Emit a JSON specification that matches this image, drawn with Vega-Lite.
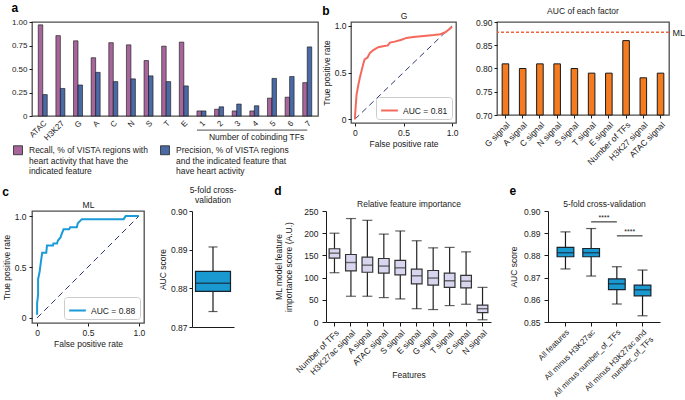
{
"$schema": "https://vega.github.io/schema/vega-lite/v6.json",
"padding": {"left": 1, "top": 1, "right": 0, "bottom": 0},
"config": {
  "font": "Liberation Sans",
  "view": {"stroke": null},
  "axis": {"labelFontSize": 8.5, "titleFontSize": 8.5, "labelColor": "#1a1a1a", "titleColor": "#1a1a1a", "titleFontWeight": "normal", "domainColor": "#1a1a1a", "tickColor": "#1a1a1a", "tickSize": 3, "grid": false, "labelPadding": 2, "titlePadding": 3, "labelOverlap": false},
  "title": {"fontSize": 8.5, "fontWeight": "normal", "color": "#1a1a1a", "offset": 3},
  "legend": {"labelFontSize": 8.5, "labelColor": "#1a1a1a"}
},
"datasets": {
  "panelA": [
    {"feature": "ATAC", "series": "Recall", "value": 0.97}, {"feature": "ATAC", "series": "Precision", "value": 0.228},
    {"feature": "H3K27", "series": "Recall", "value": 0.855}, {"feature": "H3K27", "series": "Precision", "value": 0.293},
    {"feature": "G", "series": "Recall", "value": 0.80}, {"feature": "G", "series": "Precision", "value": 0.33},
    {"feature": "A", "series": "Recall", "value": 0.62}, {"feature": "A", "series": "Precision", "value": 0.464},
    {"feature": "C", "series": "Recall", "value": 0.78}, {"feature": "C", "series": "Precision", "value": 0.366},
    {"feature": "N", "series": "Recall", "value": 0.757}, {"feature": "N", "series": "Precision", "value": 0.395},
    {"feature": "S", "series": "Recall", "value": 0.59}, {"feature": "S", "series": "Precision", "value": 0.427},
    {"feature": "T", "series": "Recall", "value": 0.743}, {"feature": "T", "series": "Precision", "value": 0.366},
    {"feature": "E", "series": "Recall", "value": 0.786}, {"feature": "E", "series": "Precision", "value": 0.32},
    {"feature": "1", "series": "Recall", "value": 0.054}, {"feature": "1", "series": "Precision", "value": 0.054},
    {"feature": "2", "series": "Recall", "value": 0.072}, {"feature": "2", "series": "Precision", "value": 0.098},
    {"feature": "3", "series": "Recall", "value": 0.054}, {"feature": "3", "series": "Precision", "value": 0.127},
    {"feature": "4", "series": "Recall", "value": 0.054}, {"feature": "4", "series": "Precision", "value": 0.109},
    {"feature": "5", "series": "Recall", "value": 0.19}, {"feature": "5", "series": "Precision", "value": 0.40},
    {"feature": "6", "series": "Recall", "value": 0.20}, {"feature": "6", "series": "Precision", "value": 0.42},
    {"feature": "7", "series": "Recall", "value": 0.355}, {"feature": "7", "series": "Precision", "value": 0.735}
  ],
  "rocG": [
    {"i": 0, "fpr": 0, "tpr": 0, "label": "AUC = 0.81"}, {"i": 1, "fpr": 0.007, "tpr": 0.12, "label": "AUC = 0.81"},
    {"i": 2, "fpr": 0.017, "tpr": 0.26, "label": "AUC = 0.81"}, {"i": 3, "fpr": 0.034, "tpr": 0.36, "label": "AUC = 0.81"},
    {"i": 4, "fpr": 0.052, "tpr": 0.45, "label": "AUC = 0.81"}, {"i": 5, "fpr": 0.069, "tpr": 0.52, "label": "AUC = 0.81"},
    {"i": 6, "fpr": 0.086, "tpr": 0.59, "label": "AUC = 0.81"}, {"i": 7, "fpr": 0.10, "tpr": 0.64, "label": "AUC = 0.81"},
    {"i": 8, "fpr": 0.13, "tpr": 0.66, "label": "AUC = 0.81"}, {"i": 9, "fpr": 0.155, "tpr": 0.71, "label": "AUC = 0.81"},
    {"i": 10, "fpr": 0.19, "tpr": 0.74, "label": "AUC = 0.81"}, {"i": 11, "fpr": 0.24, "tpr": 0.77, "label": "AUC = 0.81"},
    {"i": 12, "fpr": 0.29, "tpr": 0.78, "label": "AUC = 0.81"}, {"i": 13, "fpr": 0.34, "tpr": 0.79, "label": "AUC = 0.81"},
    {"i": 14, "fpr": 0.36, "tpr": 0.82, "label": "AUC = 0.81"}, {"i": 15, "fpr": 0.41, "tpr": 0.83, "label": "AUC = 0.81"},
    {"i": 16, "fpr": 0.48, "tpr": 0.85, "label": "AUC = 0.81"}, {"i": 17, "fpr": 0.53, "tpr": 0.87, "label": "AUC = 0.81"},
    {"i": 18, "fpr": 0.60, "tpr": 0.88, "label": "AUC = 0.81"}, {"i": 19, "fpr": 0.71, "tpr": 0.89, "label": "AUC = 0.81"},
    {"i": 20, "fpr": 0.81, "tpr": 0.90, "label": "AUC = 0.81"}, {"i": 21, "fpr": 0.88, "tpr": 0.91, "label": "AUC = 0.81"},
    {"i": 22, "fpr": 0.93, "tpr": 0.93, "label": "AUC = 0.81"}, {"i": 23, "fpr": 0.98, "tpr": 0.97, "label": "AUC = 0.81"},
    {"i": 24, "fpr": 1.0, "tpr": 0.99, "label": "AUC = 0.81"}
  ],
  "rocML": [
    {"i": 0, "fpr": 0, "tpr": 0.03, "label": "AUC = 0.88"}, {"i": 1, "fpr": 0, "tpr": 0.14, "label": "AUC = 0.88"},
    {"i": 2, "fpr": 0.01, "tpr": 0.23, "label": "AUC = 0.88"}, {"i": 3, "fpr": 0.01, "tpr": 0.38, "label": "AUC = 0.88"},
    {"i": 4, "fpr": 0.026, "tpr": 0.46, "label": "AUC = 0.88"}, {"i": 5, "fpr": 0.036, "tpr": 0.54, "label": "AUC = 0.88"},
    {"i": 6, "fpr": 0.05, "tpr": 0.64, "label": "AUC = 0.88"}, {"i": 7, "fpr": 0.09, "tpr": 0.64, "label": "AUC = 0.88"},
    {"i": 8, "fpr": 0.097, "tpr": 0.71, "label": "AUC = 0.88"}, {"i": 9, "fpr": 0.156, "tpr": 0.71, "label": "AUC = 0.88"},
    {"i": 10, "fpr": 0.16, "tpr": 0.73, "label": "AUC = 0.88"}, {"i": 11, "fpr": 0.195, "tpr": 0.73, "label": "AUC = 0.88"},
    {"i": 12, "fpr": 0.205, "tpr": 0.76, "label": "AUC = 0.88"}, {"i": 13, "fpr": 0.23, "tpr": 0.79, "label": "AUC = 0.88"},
    {"i": 14, "fpr": 0.24, "tpr": 0.82, "label": "AUC = 0.88"}, {"i": 15, "fpr": 0.26, "tpr": 0.87, "label": "AUC = 0.88"},
    {"i": 16, "fpr": 0.315, "tpr": 0.87, "label": "AUC = 0.88"}, {"i": 17, "fpr": 0.325, "tpr": 0.89, "label": "AUC = 0.88"},
    {"i": 18, "fpr": 0.39, "tpr": 0.89, "label": "AUC = 0.88"}, {"i": 19, "fpr": 0.40, "tpr": 0.93, "label": "AUC = 0.88"},
    {"i": 20, "fpr": 0.44, "tpr": 0.97, "label": "AUC = 0.88"}, {"i": 21, "fpr": 0.85, "tpr": 0.97, "label": "AUC = 0.88"},
    {"i": 22, "fpr": 0.87, "tpr": 1.0, "label": "AUC = 0.88"}, {"i": 23, "fpr": 1.0, "tpr": 1.0, "label": "AUC = 0.88"}
  ],
  "auc": [
    {"factor": "G signal", "auc": 0.81}, {"factor": "A signal", "auc": 0.80}, {"factor": "C signal", "auc": 0.81},
    {"factor": "N signal", "auc": 0.81}, {"factor": "S signal", "auc": 0.80}, {"factor": "T signal", "auc": 0.79},
    {"factor": "E signal", "auc": 0.79}, {"factor": "Number of TFs", "auc": 0.86}, {"factor": "H3K27 signal", "auc": 0.78},
    {"factor": "ATAC signal", "auc": 0.79}
  ],
  "importance": [
    {"feature": "Number of TFs", "min": 111, "q1": 144, "median": 155, "q3": 165, "max": 200},
    {"feature": "H3K27ac signal", "min": 58, "q1": 115, "median": 134, "q3": 152, "max": 233},
    {"feature": "A signal", "min": 58, "q1": 112, "median": 128, "q3": 146, "max": 229},
    {"feature": "ATAC signal", "min": 55, "q1": 110, "median": 126, "q3": 143, "max": 198},
    {"feature": "S signal", "min": 52, "q1": 106, "median": 122, "q3": 139, "max": 205},
    {"feature": "E signal", "min": 30, "q1": 86, "median": 104, "q3": 119, "max": 183},
    {"feature": "G signal", "min": 28, "q1": 83, "median": 99, "q3": 116, "max": 167},
    {"feature": "T signal", "min": 37, "q1": 78, "median": 93, "q3": 110, "max": 168},
    {"feature": "C signal", "min": 40, "q1": 77, "median": 92, "q3": 105, "max": 158},
    {"feature": "N signal", "min": 5, "q1": 21, "median": 30, "q3": 38, "max": 78}
  ],
  "cv": [
    {"set": "All features", "min": 0.8739, "q1": 0.8794, "median": 0.8812, "q3": 0.8836, "max": 0.8906},
    {"set": "All minus H3K27ac", "min": 0.8707, "q1": 0.8794, "median": 0.8812, "q3": 0.8831, "max": 0.8921},
    {"set": "All minus number_of_TFs", "min": 0.8581, "q1": 0.8646, "median": 0.8672, "q3": 0.8694, "max": 0.8749},
    {"set": "All minus H3K27ac and number_of_TFs", "min": 0.8528, "q1": 0.8618, "median": 0.8645, "q3": 0.8666, "max": 0.8734}
  ]
},
"spacing": 8,
"resolve": {"scale": {"color": "independent"}, "legend": {"color": "independent"}},
"vconcat": [
  {"spacing": 2,
   "resolve": {"scale": {"color": "independent"}, "legend": {"color": "independent"}},
   "hconcat": [
    {
      "width": 286, "height": 94,
      "view": {"stroke": "#4d4d4d", "strokeWidth": 1.3},
      "title": {"text": "a", "anchor": "start", "frame": "bounds", "fontSize": 12, "fontWeight": "bold", "color": "#000", "offset": 3},
      "layer": [
        {"data": {"name": "panelA"},
         "mark": {"type": "bar", "stroke": "#111", "strokeWidth": 0.6},
         "encoding": {
           "x": {"field": "feature", "type": "nominal", "scale": {"domain": ["ATAC","H3K27","G","A","C","N","S","T","E","1","2","3","4","5","6","7"], "paddingInner": 0.49, "paddingOuter": 0.355}, "axis": {"title": null, "labelAngle": -45, "labelFontSize": 8, "ticks": false, "domain": false, "labelPadding": 3}},
           "xOffset": {"field": "series", "type": "nominal", "scale": {"domain": ["Recall", "Precision"]}},
           "y": {"field": "value", "type": "quantitative", "scale": {"domain": [0, 1], "nice": false}, "axis": {"title": null, "values": [0, 0.25, 0.5, 0.75, 1], "labelExpr": "datum.value == 0 ? '0' : format(datum.value, '.2f')", "domain": false, "labelFontSize": 8}},
           "color": {"field": "series", "type": "nominal", "scale": {"domain": ["Recall", "Precision"], "range": ["#a6669c", "#4a6aa5"]},
             "legend": {"orient": "none", "legendX": -19, "legendY": 123, "direction": "horizontal", "columns": 2, "title": null, "symbolType": "square", "symbolSize": 80, "symbolStrokeColor": "#222", "symbolStrokeWidth": 0.8, "symbolOpacity": 1, "labelFontSize": 8.5, "labelLimit": 300, "columnPadding": 9, "labelOffset": 6, "padding": 0,
               "labelExpr": "datum.label == 'Recall' ? ['Recall, % of VISTA regions with', 'heart activity that have the', 'indicated feature'] : ['Precision, % of VISTA regions', 'and the indicated feature that', 'have heart activity']"}}
         }},
        {"data": {"values": [{}]},
         "mark": {"type": "rule", "color": "#222", "strokeWidth": 0.8},
         "encoding": {"x": {"datum": "1", "bandPosition": 0, "axis": null}, "x2": {"datum": "7"}, "y": {"datum": -0.15, "axis": null}}},
        {"data": {"values": [{}]},
         "mark": {"type": "text", "fontSize": 8.5, "color": "#1a1a1a", "baseline": "middle"},
         "encoding": {"x": {"datum": "4", "bandPosition": 0.75, "axis": null}, "y": {"datum": -0.225, "axis": null}, "text": {"value": "Number of cobinding TFs"}}}
      ],
      "resolve": {"axis": {"x": "independent", "y": "independent"}}
    },
    {"spacing": 15,
     "resolve": {"scale": {"color": "independent"}, "legend": {"color": "independent"}},
     "hconcat": [
      {
        "width": 105, "height": 101,
        "view": {"stroke": "#4d4d4d", "strokeWidth": 1.3},
        "title": {"text": "b", "anchor": "start", "frame": "bounds", "fontSize": 12, "fontWeight": "bold", "color": "#000", "offset": 0, "dy": 7},
        "layer": [
          {"data": {"values": [{"fpr": 0, "tpr": 0}, {"fpr": 1, "tpr": 1}]},
           "mark": {"type": "line", "color": "#2d3870", "strokeWidth": 1, "strokeDash": [6, 4]},
           "encoding": {
             "x": {"field": "fpr", "type": "quantitative", "scale": {"domain": [-0.04, 1.04], "nice": false, "zero": false}, "axis": {"orient": "top", "labels": false, "ticks": false, "domain": false, "title": "G", "titlePadding": 2}},
             "y": {"field": "tpr", "type": "quantitative", "scale": {"domain": [-0.04, 1.04], "nice": false, "zero": false}, "axis": {"title": "True positive rate", "values": [0, 0.5, 1], "labelExpr": "datum.value == 0 ? '0' : format(datum.value, '.1f')", "domain": false}}
           }},
          {"data": {"name": "rocG"},
           "mark": {"type": "line", "strokeWidth": 2},
           "encoding": {
             "x": {"field": "fpr", "type": "quantitative", "axis": {"title": "False positive rate", "values": [0, 0.5, 1], "labelExpr": "datum.value == 0 ? '0' : format(datum.value, '.1f')", "domain": false}},
             "y": {"field": "tpr", "type": "quantitative", "axis": null},
             "order": {"field": "i"},
             "color": {"field": "label", "type": "nominal", "scale": {"range": ["#f4695c"]},
               "legend": {"orient": "bottom-right", "offset": 4, "title": null, "strokeColor": "#cccccc", "cornerRadius": 3, "padding": 4, "fillColor": "white", "symbolType": "stroke", "symbolStrokeWidth": 2, "symbolSize": 280, "labelFontSize": 8.5}}
           }}
        ],
        "resolve": {"axis": {"x": "independent", "y": "independent"}}
      },
      {
        "width": 172, "height": 93,
        "view": {"stroke": "#4d4d4d", "strokeWidth": 1.3},
        "title": {"text": "AUC of each factor"},
        "layer": [
          {"data": {"name": "auc"},
           "mark": {"type": "bar", "fill": "#f47b1f", "stroke": "#1a1a1a", "strokeWidth": 1},
           "encoding": {
             "x": {"field": "factor", "type": "nominal", "scale": {"domain": ["G signal","A signal","C signal","N signal","S signal","T signal","E signal","Number of TFs","H3K27 signal","ATAC signal"], "paddingInner": 0.62, "paddingOuter": 0.3}, "axis": {"title": null, "labelAngle": -45, "domain": false}},
             "y": {"field": "auc", "type": "quantitative", "scale": {"domain": [0.7, 0.9], "nice": false, "zero": false}, "axis": {"title": null, "values": [0.7, 0.75, 0.8, 0.85, 0.9], "format": ".2f", "domain": false}},
             "y2": {"datum": 0.7}
           }},
          {"data": {"values": [{"ml": 0.878}]},
           "mark": {"type": "rule", "color": "#f0643c", "strokeWidth": 1.5, "strokeDash": [3, 2]},
           "encoding": {
             "y": {"field": "ml", "type": "quantitative", "axis": {"orient": "right", "values": [0.878], "labelExpr": "'ML'", "ticks": false, "domain": false, "title": null, "labelFontSize": 9, "labelPadding": 3}}
           }}
        ],
        "resolve": {"axis": {"y": "independent"}}
      }
    ]}
  ]},
  {"spacing": 37,
   "resolve": {"scale": {"color": "independent"}, "legend": {"color": "independent"}},
   "hconcat": [
    {"spacing": 12,
     "resolve": {"scale": {"color": "independent"}, "legend": {"color": "independent"}},
     "hconcat": [
      {
        "width": 112, "height": 112,
        "view": {"stroke": "#4d4d4d", "strokeWidth": 1.3},
        "title": {"text": "c", "anchor": "start", "frame": "bounds", "fontSize": 12, "fontWeight": "bold", "color": "#000", "offset": 1},
        "layer": [
          {"data": {"values": [{"fpr": 0, "tpr": 0}, {"fpr": 1, "tpr": 1}]},
           "mark": {"type": "line", "color": "#2d3870", "strokeWidth": 1, "strokeDash": [6, 4]},
           "encoding": {
             "x": {"field": "fpr", "type": "quantitative", "scale": {"domain": [-0.05, 1.05], "nice": false, "zero": false}, "axis": {"orient": "top", "labels": false, "ticks": false, "domain": false, "title": "ML", "titlePadding": 2}},
             "y": {"field": "tpr", "type": "quantitative", "scale": {"domain": [-0.05, 1.05], "nice": false, "zero": false}, "axis": {"title": "True positive rate", "values": [0, 0.5, 1], "labelExpr": "datum.value == 0 ? '0' : format(datum.value, '.1f')", "domain": false, "labelPadding": 3}}
           }},
          {"data": {"name": "rocML"},
           "mark": {"type": "line", "strokeWidth": 2},
           "encoding": {
             "x": {"field": "fpr", "type": "quantitative", "axis": {"title": "False positive rate", "values": [0, 0.5, 1], "labelExpr": "datum.value == 0 ? '0' : format(datum.value, '.1f')", "domain": false}},
             "y": {"field": "tpr", "type": "quantitative", "axis": null},
             "order": {"field": "i"},
             "color": {"field": "label", "type": "nominal", "scale": {"range": ["#1a9bd7"]},
               "legend": {"orient": "bottom-right", "offset": 4, "title": null, "strokeColor": "#cccccc", "cornerRadius": 3, "padding": 4, "fillColor": "white", "symbolType": "stroke", "symbolStrokeWidth": 2, "symbolSize": 280, "labelFontSize": 8.5}}
           }}
        ],
        "resolve": {"axis": {"x": "independent", "y": "independent"}}
      },
      {
        "width": 42, "height": 116,
        "title": {"text": ["5-fold cross-", "validation"], "lineHeight": 10},
        "data": {"values": [{"g": "cv", "min": 0.874, "q1": 0.8792, "median": 0.8813, "q3": 0.8844, "max": 0.8907}]},
        "layer": [
          {"mark": {"type": "rule", "color": "#1a1a1a", "strokeWidth": 1.2},
           "encoding": {
             "x": {"field": "g", "type": "nominal", "scale": {"paddingOuter": 0.1, "paddingInner": 0}, "axis": {"labels": false, "ticks": false, "title": null}},
             "y": {"field": "min", "type": "quantitative", "scale": {"domain": [0.87, 0.9], "nice": false, "zero": false}, "axis": {"title": "AUC score", "values": [0.87, 0.88, 0.89, 0.9], "format": ".2f"}},
             "y2": {"field": "max"}
           }},
          {"mark": {"type": "tick", "color": "#1a1a1a", "size": 9, "thickness": 1.2},
           "encoding": {"x": {"field": "g", "type": "nominal", "axis": null}, "y": {"field": "min", "type": "quantitative", "axis": null}}},
          {"mark": {"type": "tick", "color": "#1a1a1a", "size": 9, "thickness": 1.2},
           "encoding": {"x": {"field": "g", "type": "nominal", "axis": null}, "y": {"field": "max", "type": "quantitative", "axis": null}}},
          {"mark": {"type": "bar", "fill": "#1a98d0", "stroke": "#16222c", "strokeWidth": 1.2},
           "encoding": {"x": {"field": "g", "type": "nominal", "axis": null}, "y": {"field": "q1", "type": "quantitative", "axis": null}, "y2": {"field": "q3"}}},
          {"mark": {"type": "tick", "color": "#16222c", "size": 35, "thickness": 1.4},
           "encoding": {"x": {"field": "g", "type": "nominal", "axis": null}, "y": {"field": "median", "type": "quantitative", "axis": null}}}
        ],
        "resolve": {"axis": {"x": "independent", "y": "independent"}}
      }
    ]},
    {"spacing": 18, "hconcat": [
      {
        "width": 165, "height": 111,
        "title": {"text": "d", "anchor": "start", "frame": "bounds", "fontSize": 12, "fontWeight": "bold", "color": "#000", "offset": 1},
        "data": {"name": "importance"},
        "layer": [
          {"mark": {"type": "rule", "color": "#222", "strokeWidth": 1.2},
           "encoding": {
             "x": {"field": "feature", "type": "nominal", "scale": {"domain": ["Number of TFs","H3K27ac signal","A signal","ATAC signal","S signal","E signal","G signal","T signal","C signal","N signal"], "paddingInner": 0.35, "paddingOuter": 0.19}, "axis": {"title": "Features", "labelAngle": -45, "titlePadding": -6, "tickSize": 4}},
             "y": {"field": "min", "type": "quantitative", "scale": {"domain": [0, 250], "nice": false}, "axis": {"title": ["ML model feature", "importance score (A.U.)"], "values": [0, 50, 100, 150, 200, 250], "titlePadding": 10, "labelPadding": 4, "tickSize": 4}},
             "y2": {"field": "max"}
           }},
          {"mark": {"type": "tick", "color": "#222", "size": 10, "thickness": 1.2},
           "encoding": {"x": {"field": "feature", "type": "nominal", "axis": null}, "y": {"field": "min", "type": "quantitative", "axis": null}}},
          {"mark": {"type": "tick", "color": "#222", "size": 10, "thickness": 1.2},
           "encoding": {"x": {"field": "feature", "type": "nominal", "axis": null}, "y": {"field": "max", "type": "quantitative", "axis": null}}},
          {"mark": {"type": "bar", "fill": "#d8d5ef", "stroke": "#333", "strokeWidth": 1.2},
           "encoding": {"x": {"field": "feature", "type": "nominal", "axis": null}, "y": {"field": "q1", "type": "quantitative", "axis": null}, "y2": {"field": "q3"}}},
          {"mark": {"type": "tick", "color": "#333", "size": 10.7, "thickness": 1.4},
           "encoding": {"x": {"field": "feature", "type": "nominal", "axis": {"orient": "top", "labels": false, "ticks": false, "domain": false, "title": "Relative feature importance", "titlePadding": 3}}, "y": {"field": "median", "type": "quantitative", "axis": null}}}
        ],
        "resolve": {"axis": {"x": "independent", "y": "independent"}}
      },
      {
        "width": 112, "height": 111,
        "title": {"text": "e", "anchor": "start", "frame": "bounds", "fontSize": 12, "fontWeight": "bold", "color": "#000", "offset": 1},
        "layer": [
          {"data": {"name": "cv"},
           "mark": {"type": "rule", "color": "#1a1a1a", "strokeWidth": 1.2},
           "encoding": {
             "x": {"field": "set", "type": "nominal", "scale": {"domain": ["All features","All minus H3K27ac","All minus number_of_TFs","All minus H3K27ac and number_of_TFs"], "paddingInner": 0.35, "paddingOuter": 0.355}, "axis": {"title": null, "labelAngle": -45, "labelFontSize": 8, "tickSize": 4, "labelExpr": "datum.label == 'All minus H3K27ac and number_of_TFs' ? ['All minus H3K27ac and', 'number_of_TFs'] : datum.label"}},
             "y": {"field": "min", "type": "quantitative", "scale": {"domain": [0.85, 0.9], "nice": false, "zero": false}, "axis": {"title": "AUC score", "values": [0.85, 0.86, 0.87, 0.88, 0.89, 0.9], "format": ".2f", "titlePadding": 5, "labelPadding": 4, "tickSize": 4}},
             "y2": {"field": "max"}
           }},
          {"data": {"name": "cv"},
           "mark": {"type": "tick", "color": "#1a1a1a", "size": 10, "thickness": 1.2},
           "encoding": {"x": {"field": "set", "type": "nominal", "axis": null}, "y": {"field": "min", "type": "quantitative", "axis": null}}},
          {"data": {"name": "cv"},
           "mark": {"type": "tick", "color": "#1a1a1a", "size": 10, "thickness": 1.2},
           "encoding": {"x": {"field": "set", "type": "nominal", "axis": null}, "y": {"field": "max", "type": "quantitative", "axis": null}}},
          {"data": {"name": "cv"},
           "mark": {"type": "bar", "fill": "#1a98d0", "stroke": "#16222c", "strokeWidth": 1.2},
           "encoding": {"x": {"field": "set", "type": "nominal", "axis": null}, "y": {"field": "q1", "type": "quantitative", "axis": null}, "y2": {"field": "q3"}}},
          {"data": {"name": "cv"},
           "mark": {"type": "tick", "color": "#16222c", "size": 16.7, "thickness": 1.4},
           "encoding": {"x": {"field": "set", "type": "nominal", "axis": {"orient": "top", "labels": false, "ticks": false, "domain": false, "title": "5-fold cross-validation", "titlePadding": 3}}, "y": {"field": "median", "type": "quantitative", "axis": null}}},
          {"data": {"values": [
              {"from": "All minus H3K27ac", "to": "All minus number_of_TFs", "y": 0.8951},
              {"from": "All minus number_of_TFs", "to": "All minus H3K27ac and number_of_TFs", "y": 0.8888}]},
           "layer": [
             {"mark": {"type": "rule", "color": "#1a1a1a", "strokeWidth": 1},
              "encoding": {"x": {"field": "from", "type": "nominal", "axis": null}, "x2": {"field": "to"}, "y": {"field": "y", "type": "quantitative", "axis": null}}},
             {"mark": {"type": "text", "text": "****", "fontSize": 7, "color": "#1a1a1a", "baseline": "bottom", "dx": 12.85, "dy": -1},
              "encoding": {"x": {"field": "from", "type": "nominal", "axis": null}, "y": {"field": "y", "type": "quantitative", "axis": null}}}
           ],
           "resolve": {"axis": {"x": "independent", "y": "independent"}}}
        ],
        "resolve": {"axis": {"x": "independent", "y": "independent"}}
      }
    ]}
  ]}
]
}
